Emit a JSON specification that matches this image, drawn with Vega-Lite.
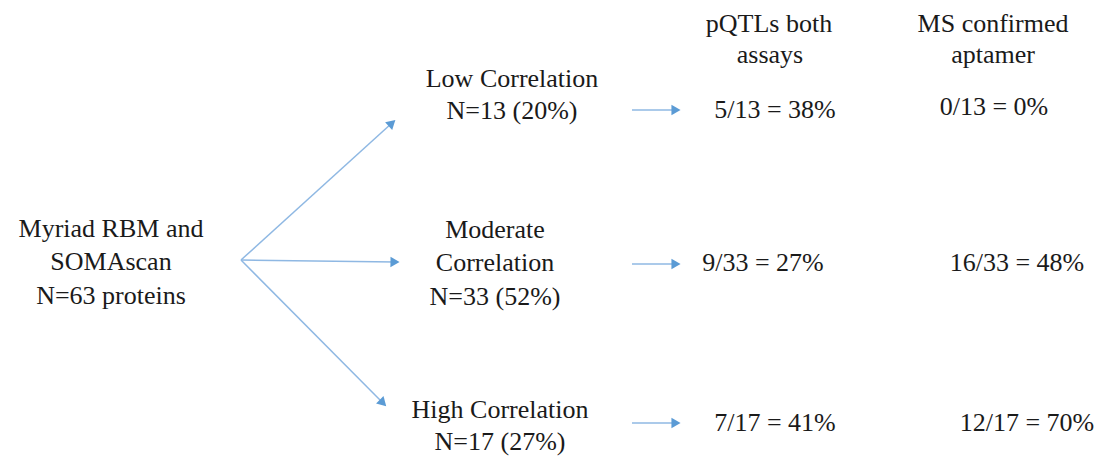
{
  "$schema": "https://vega.github.io/schema/vega-lite/v6.json",
  "width": 1099,
  "height": 457,
  "autosize": {"type": "fit", "contains": "padding"},
  "padding": 0,
  "background": "white",
  "config": {"view": {"stroke": null}},
  "datasets": {
    "labels": [
      {"x": 111, "y": 229, "t": "Myriad RBM and"},
      {"x": 111, "y": 262, "t": "SOMAscan"},
      {"x": 111, "y": 296, "t": "N=63 proteins"},
      {"x": 512, "y": 79, "t": "Low Correlation"},
      {"x": 512, "y": 111, "t": "N=13 (20%)"},
      {"x": 495, "y": 230, "t": "Moderate"},
      {"x": 495, "y": 263, "t": "Correlation"},
      {"x": 495, "y": 297, "t": "N=33 (52%)"},
      {"x": 500, "y": 410, "t": "High Correlation"},
      {"x": 500, "y": 442, "t": "N=17 (27%)"},
      {"x": 769, "y": 24, "t": "pQTLs both"},
      {"x": 770, "y": 55, "t": "assays"},
      {"x": 993, "y": 24, "t": "MS confirmed"},
      {"x": 993, "y": 55, "t": "aptamer"},
      {"x": 775, "y": 110, "t": "5/13 = 38%"},
      {"x": 994, "y": 107, "t": "0/13 = 0%"},
      {"x": 763, "y": 263, "t": "9/33 = 27%"},
      {"x": 1017, "y": 263, "t": "16/33 = 48%"},
      {"x": 775, "y": 423, "t": "7/17 = 41%"},
      {"x": 1027, "y": 423, "t": "12/17 = 70%"}
    ],
    "arrows": [
      {"x": 241, "y": 260, "x2": 392, "y2": 123},
      {"x": 241, "y": 260, "x2": 395, "y2": 262},
      {"x": 241, "y": 260, "x2": 383, "y2": 403},
      {"x": 632, "y": 110, "x2": 676, "y2": 110},
      {"x": 632, "y": 264, "x2": 676, "y2": 264},
      {"x": 632, "y": 423, "x2": 676, "y2": 423}
    ]
  },
  "layer": [
    {
      "data": {"name": "arrows"},
      "mark": {"type": "rule", "stroke": "#8fb8e3", "strokeWidth": 1.5},
      "encoding": {
        "x": {"field": "x", "type": "quantitative", "scale": {"domain": [0, 1099]}, "axis": null},
        "y": {"field": "y", "type": "quantitative", "scale": {"domain": [0, 457], "reverse": true}, "axis": null},
        "x2": {"field": "x2"},
        "y2": {"field": "y2"}
      }
    },
    {
      "data": {"name": "arrows"},
      "transform": [
        {"calculate": "atan2(datum.y2 - datum.y, datum.x2 - datum.x) * 180 / PI", "as": "ang"}
      ],
      "mark": {"type": "point", "shape": "triangle-right", "filled": true, "fill": "#5b9bd5", "opacity": 1, "size": 110},
      "encoding": {
        "x": {"field": "x2", "type": "quantitative", "scale": {"domain": [0, 1099]}, "axis": null},
        "y": {"field": "y2", "type": "quantitative", "scale": {"domain": [0, 457], "reverse": true}, "axis": null},
        "angle": {"field": "ang", "type": "quantitative", "scale": null}
      }
    },
    {
      "data": {"name": "labels"},
      "mark": {"type": "text", "font": "Liberation Serif, Times New Roman, serif", "fontSize": 26, "color": "#1a1a1a", "align": "center", "baseline": "middle"},
      "encoding": {
        "x": {"field": "x", "type": "quantitative", "scale": {"domain": [0, 1099]}, "axis": null},
        "y": {"field": "y", "type": "quantitative", "scale": {"domain": [0, 457], "reverse": true}, "axis": null},
        "text": {"field": "t"}
      }
    }
  ]
}
